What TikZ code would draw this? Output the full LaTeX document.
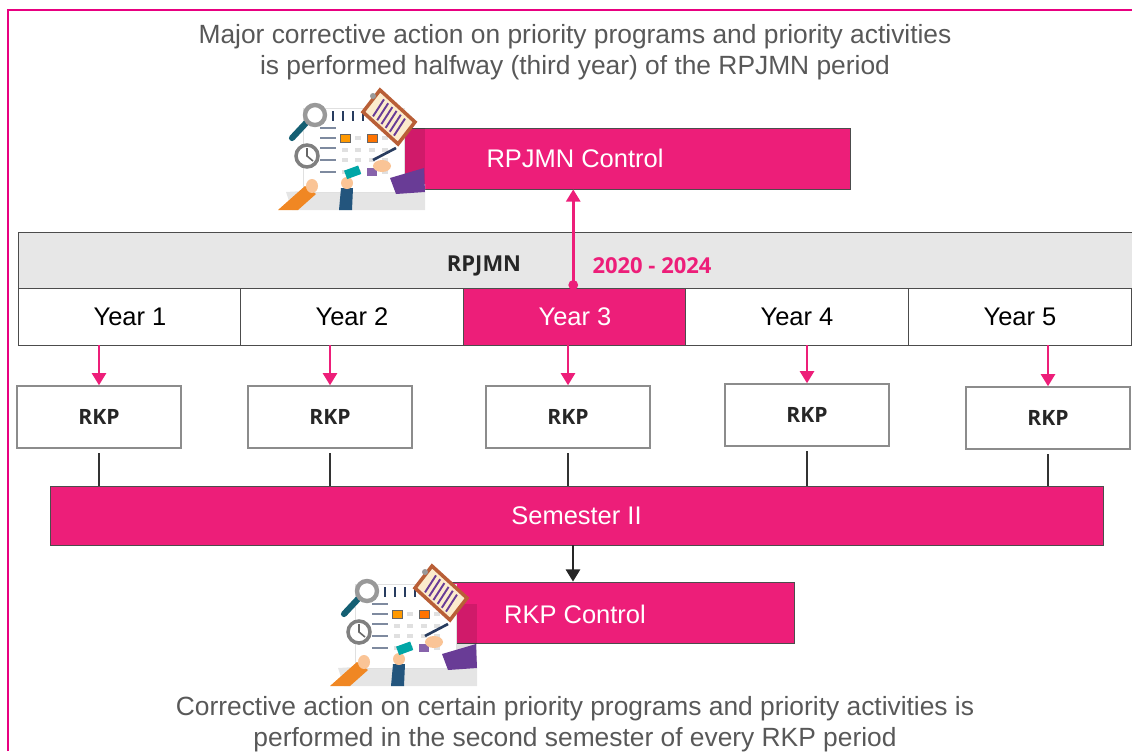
\documentclass[tikz,border=0pt]{standalone}
\usepackage{fontspec}
\setmainfont{Liberation Sans}
\newfontfamily\semibold{Open Sans}
\usetikzlibrary{arrows.meta, positioning}

\definecolor{rosa}{RGB}{237,30,121}
\definecolor{framepink}{RGB}{232,0,128}
\definecolor{bargray}{RGB}{231,231,231}
\definecolor{captiongray}{RGB}{88,88,88}
\definecolor{navy}{RGB}{40,60,95}
\definecolor{tealdark}{RGB}{20,95,115}
\definecolor{skin}{RGB}{250,196,150}
\definecolor{sleeve}{RGB}{240,135,35}
\definecolor{cuff}{RGB}{35,85,125}
\definecolor{robe}{RGB}{105,60,150}
\definecolor{board}{RGB}{185,95,55}
\definecolor{paper}{RGB}{252,236,205}

\tikzset{
  % little planner illustration, drawn in px units from its top-left corner
  pics/planner/.style={code={
    \fill[black!10] (8,104) -- (147,96) -- (147,122) -- (14,122) -- cycle;
    \fill[black, opacity=0.12] (122,40) rectangle (147,101);
    \fill[white, draw=black!12] (25,20) rectangle (126,104);
    \foreach \x in {55,65,75,85} \draw[navy, line width=1.2pt] (\x,23) -- (\x,33);
    \foreach \y in {40,50,60,72,84} \draw[navy!60, line width=1.5pt] (42,\y) -- (58,\y);
    \foreach \x in {67,80,94,107} \foreach \y in {50,62,72,84}
      \fill[black!12] (\x-3,\y-2) rectangle (\x+3,\y+2);
    \fill[orange!80!yellow, draw=black!60] (62,46) rectangle (72,54);
    \fill[orange!90!red, draw=black!60] (89,46) rectangle (99,54);
    \fill[robe!80] (89,80) rectangle (99,88);
    % magnifier and clock
    \draw[tealdark, line width=3.5pt, line cap=round] (28,35) -- (14,50);
    \draw[black!40, line width=2.5pt, fill=white] (37,27) circle (10);
    \draw[black!50, line width=2pt, fill=white] (29,68) circle (11);
    \draw[black!60, line width=0.9pt] (29,60) -- (29,68) -- (35,73);
    % clipboard
    \draw[board, line width=2pt, fill=paper] (85,24) -- (102,2) -- (137,34) -- (120,56) -- cycle;
    \fill[black!40] (95,8) circle (3);
    \foreach \t in {0.2,0.32,...,0.9}
      \draw[robe, line width=1.1pt] ($(85,24)!\t!(120,56)+(3,-2)$) -- ($(102,2)!\t!(137,34)+(-3,3)$);
    % hands and sleeves
    \fill[robe] (112,90) -- (146,80) -- (147,104) -- (118,106) -- cycle;
    \fill[skin] (104,78) ellipse (9 and 6);
    \draw[navy, line width=1.5pt] (95,72) -- (118,60);
    \fill[sleeve] (0,122) -- (27,98) -- (38,106) -- (20,122) -- cycle;
    \fill[skin] (34,98) ellipse (6 and 7);
    \fill[cuff] (61,122) -- (63,100) -- (75,100) -- (74,122) -- cycle;
    \fill[skin] (69,95) ellipse (6 and 6);
    \fill[teal!70!cyan, rotate around={20:(74,84)}] (67,80) rectangle (82,89);
  }},
  caption/.style={align=center, text=captiongray, font=\fontsize{15}{17.6}\selectfont},
  yearcell/.style={draw=black!70, minimum width=4.456cm, minimum height=1.14cm,
    inner sep=0pt, font=\fontsize{14.5}{16}\selectfont},
  plainyear/.style={fill=white, text=black},
  hotyear/.style={fill=rosa, text=white},
  rkpbox/.style={draw=black!45, line width=0.8pt, fill=white, minimum width=3.28cm,
    minimum height=1.24cm, text=black!85, font=\semibold\bfseries\fontsize{12}{14}\selectfont},
  pinkbar/.style={draw=black!70, fill=rosa, text=white, inner sep=0pt,
    font=\fontsize{14.5}{16}\selectfont},
  bartext/.style={font=\semibold\bfseries\fontsize{12.5}{15}\selectfont},
  pinkarrow/.style={draw=rosa, line width=1.6pt, -{Triangle[length=7pt,width=8pt]}},
  blackarrow/.style={draw=black!85, line width=1.6pt, -{Triangle[length=7pt,width=8pt]}}
}
\usetikzlibrary{calc}

\begin{document}
\begin{tikzpicture}[x=0.02cm, y=-0.02cm]
  \useasboundingbox (0,0) rectangle (1132,751);

  % frame
  \draw[framepink, line width=1.3pt] (8,751) -- (8,10) -- (1132,10);

  % captions
  \node[caption] (topnote) at (575,52)
    {Major corrective action on priority programs and priority activities\\
     is performed halfway (third year) of the RPJMN period};
  \node[caption] (bottomnote) at (575,724)
    {Corrective action on certain priority programs and priority activities is\\
     performed in the second semester of every RKP period};

  % RPJMN period bar
  \node[draw=black!70, fill=bargray, minimum width=22.28cm, minimum height=1.12cm] (bar) at (575,260) {};
  \node[bartext, text=black!85] (rpjmn) at (484,266) {RPJMN};
  \node[bartext, text=rosa] (period) at (652,266) {2020 - 2024};

  % years
  \foreach \i/\x/\sty in {1/130/plainyear, 2/352/plainyear, 3/575/hotyear, 4/797/plainyear, 5/1020/plainyear}
    \node[yearcell, \sty] (y\i) at (\x,316.5) {Year \i};

  % semester bar
  \node[pinkbar, minimum width=21.06cm, minimum height=1.18cm] (sem) at (576.5,515.5) {Semester II};

  % RKP boxes
  \foreach \i/\x/\y in {1/99/417, 2/330/417, 3/568/417, 4/807/415, 5/1048/418} {
    \node[rkpbox] (rkp\i) at (\x,\y) {RKP};
    \draw[pinkarrow] (rkp\i.north |- y\i.south) -- (rkp\i.north);
    \draw[black!80, line width=0.6pt] ([yshift=-2.5pt]rkp\i.south) -- (rkp\i.south |- sem.north);
  }

  % control boxes
  \node[pinkbar, minimum width=9cm, minimum height=1.22cm] (ctlA) at (625,158.5) {};
  \node[text=white, font=\fontsize{14.5}{16}\selectfont] (ctlAtext) at (575,158) {RPJMN Control};
  \node[pinkbar, minimum width=7.08cm, minimum height=1.22cm] (ctlB) at (617,612.5) {};
  \node[text=white, font=\fontsize{14.5}{16}\selectfont] (ctlBtext) at (575,614) {RKP Control};

  \pic at (278,88) {planner};
  \pic at (330,564) {planner};

  % connectors
  \fill[rosa] ([xshift=-1pt,yshift=1.5pt]y3.north) circle (2.8pt);
  \draw[pinkarrow] ([xshift=-1pt]y3.north) -- ([xshift=-1pt]y3.north |- ctlA.south);
  \draw[blackarrow] ([xshift=-2pt]sem.south) -- ([xshift=-2pt]sem.south |- ctlB.north);
\end{tikzpicture}
\end{document}
